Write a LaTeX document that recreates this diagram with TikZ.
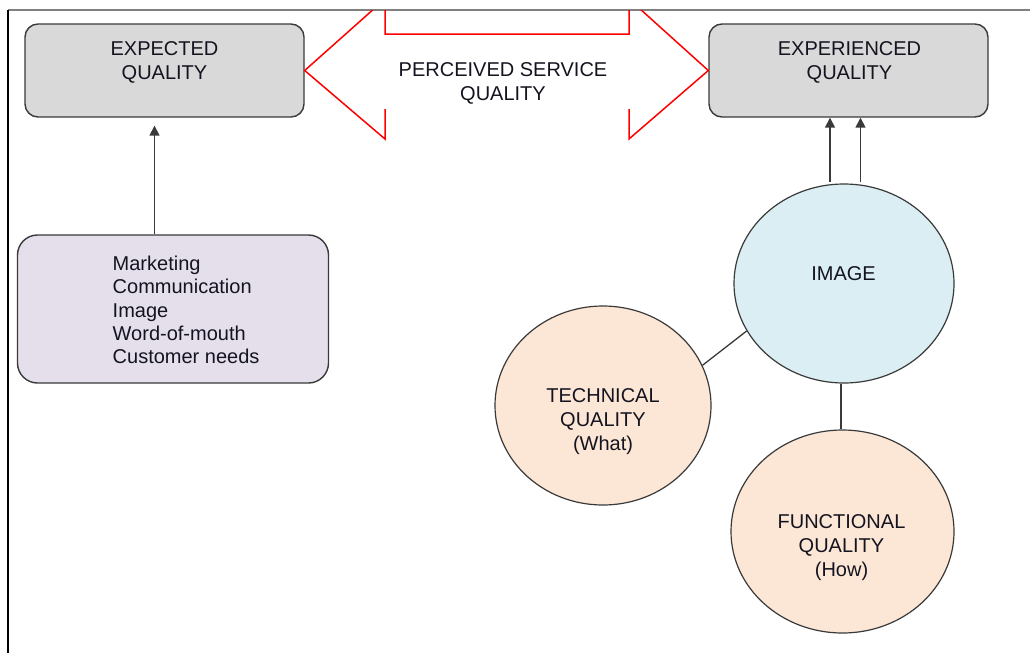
\documentclass[tikz,border=0pt]{standalone}
\usepackage{fontspec}
\setmainfont{Liberation Sans}
\usetikzlibrary{shapes.geometric,arrows.meta}
\definecolor{boxgray}{HTML}{D9D9D9}
\definecolor{lav}{HTML}{E5DFEC}
\definecolor{skyb}{HTML}{DAEEF3}
\definecolor{peach}{HTML}{FCE6D6}
\definecolor{edge}{HTML}{3A3A3A}
\definecolor{txtc}{HTML}{141420}
\definecolor{framegray}{HTML}{808080}
\begin{document}
\begin{tikzpicture}[x=1pt,y=-1pt,
  box/.style={draw=edge, line width=1.4pt, rounded corners=13pt, fill=boxgray,
    minimum width=279pt, minimum height=93pt, inner sep=0pt},
  lavbox/.style={draw=edge, line width=1.4pt, rounded corners=20pt, fill=lav,
    minimum width=311pt, minimum height=148pt, inner sep=0pt},
  ell/.style={ellipse, draw=edge, line width=1.2pt, inner sep=0pt},
  txt/.style={inner sep=0pt, align=center, text=txtc,
    font=\fontsize{20}{24}\selectfont},
  arr/.style={draw=edge, line width=1.5pt, -{Triangle[width=10pt,length=10pt]}},
  conn/.style={draw=edge, line width=1.3pt},
  redline/.style={draw=red, line width=1.5pt, line join=miter}]
\useasboundingbox (0,0) rectangle (1030,653);
\fill[white] (0,0) rectangle (1030,653);

% frame
\draw[framegray, line width=1.2pt] (8,10) -- (1030,10);
\draw[black, line width=1.5pt] (8,10) -- (8,653);

% boxes
\node[box] (exp) at (164.5,70.5) {};
\node[txt] (expt) at (164.5,62.5) {EXPECTED\\QUALITY};
\node[box] (expr) at (848.5,70.5) {};
\node[txt] (exprt) at (849.5,62.5) {EXPERIENCED\\QUALITY};

\node[lavbox] (lst) at (173,309) {};
\node[txt, align=left, anchor=west, font=\fontsize{20}{23.3}\selectfont] (lstt) at (112.5,310)
  {Marketing\\Communication\\Image\\Word-of-mouth\\Customer needs};

% ellipses
\node[ell, fill=skyb, minimum width=220pt, minimum height=199pt] (img) at (844,283.5) {};
\node[txt] (imgt) at (843.5,274) {IMAGE};
\node[ell, fill=peach, minimum width=216pt, minimum height=199pt] (tech) at (603,405.5) {};
\node[txt] (techt) at (603,422) {TECHNICAL\\QUALITY\\(What)};
\node[ell, fill=peach, minimum width=223pt, minimum height=203pt] (fun) at (842.5,531.5) {};
\node[txt] (funt) at (841.5,547.5) {FUNCTIONAL\\QUALITY\\(How)};

% red double arrow
\begin{scope}
  \clip (0,10.6) rectangle (1030,653);
  \draw[redline] (385,109) -- (385,139) -- (exp.east) -- (385,-1) -- (385,34)
     -- (629,34) -- (629,-1) -- (expr.west) -- (629,139) -- (629,109);
\end{scope}
\node[txt] (pst) at (503,83) {PERCEIVED SERVICE\\QUALITY};

% connectors
\coordinate (lx) at (154.5,0);
\draw[arr, shorten >=8pt] (lst.north -| lx) -- (exp.south -| lx);
\coordinate (ax1) at (830,0);
\coordinate (ax2) at (860.5,0);
\draw[arr] ([yshift=1pt]img.north -| ax1) -- (expr.south -| ax1);
\draw[arr] ([yshift=1pt]img.north -| ax2) -- (expr.south -| ax2);
\draw[conn] (tech.22) -- (img.206);
\coordinate (lx2) at (841,0);
\draw[conn] (img.south -| lx2) -- (fun.north -| lx2);
\end{tikzpicture}
\end{document}
